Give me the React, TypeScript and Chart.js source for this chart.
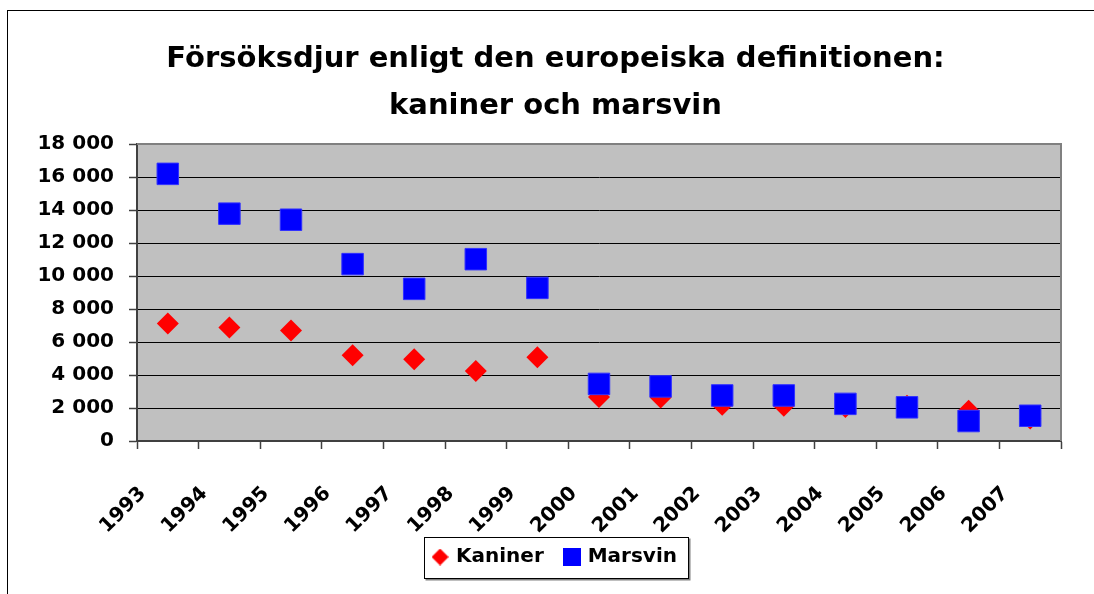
import React, { useEffect, useRef } from "react";
import { Chart, registerables } from "chart.js";

Chart.register(...registerables);

const years = ["1993", "1994", "1995", "1996", "1997", "1998", "1999", "2000", "2001", "2002", "2003", "2004", "2005", "2006", "2007"];
const kaniner = [7120, 6880, 6700, 5200, 4960, 4240, 5080, 2660, 2640, 2200, 2140, 2060, 2140, 1830, 1360];
const marsvin = [16190, 13780, 13410, 10720, 9220, 11020, 9280, 3460, 3310, 2760, 2760, 2250, 2040, 1210, 1530];
const titleLines = ["Försöksdjur enligt den europeiska definitionen:", "kaniner och marsvin"];
const seriesNames = ["Kaniner", "Marsvin"];

const fmt = (v: number) => String(v).replace(/\B(?=(\d{3})+(?!\d))/g, " ");

function makeMarker(kind: "diamond" | "square"): HTMLCanvasElement {
  const c = document.createElement("canvas");
  const s = kind === "diamond" ? 17 : 18;
  c.width = s;
  c.height = s;
  const g = c.getContext("2d")!;
  if (kind === "diamond") {
    g.fillStyle = "#FF0000";
    g.beginPath();
    g.moveTo(s / 2, 0);
    g.lineTo(s, s / 2);
    g.lineTo(s / 2, s);
    g.lineTo(0, s / 2);
    g.closePath();
    g.fill();
  } else {
    g.fillStyle = "#0000FF";
    g.fillRect(0, 0, s, s);
  }
  return c;
}

const plotBg = {
  id: "plotBg",
  beforeDraw(chart: any) {
    const { ctx, chartArea: a } = chart;
    ctx.save();
    ctx.fillStyle = "#C0C0C0";
    ctx.fillRect(a.left, a.top, a.right - a.left, a.bottom - a.top);
    ctx.restore();
  },
  beforeDatasetsDraw(chart: any) {
    const { ctx, chartArea: a } = chart;
    ctx.save();
    ctx.strokeStyle = "#808080";
    ctx.lineWidth = 2;
    ctx.beginPath();
    ctx.moveTo(a.left, a.top);
    ctx.lineTo(a.right, a.top);
    ctx.lineTo(a.right, a.bottom);
    ctx.stroke();
    ctx.restore();
  },
  afterDraw(chart: any) {
    const lg = chart.legend;
    if (!lg || !lg.legendHitBoxes || !lg.legendHitBoxes.length) return;
    const hb = lg.legendHitBoxes;
    let l = Infinity, r = -Infinity, t = Infinity, b = -Infinity;
    hb.forEach((h: any) => {
      l = Math.min(l, h.left);
      r = Math.max(r, h.left + h.width);
      t = Math.min(t, h.top);
      b = Math.max(b, h.top + h.height);
    });
    const ctx = chart.ctx;
    ctx.save();
    const x0 = Math.round(l - 10) + 0.5;
    const x1 = Math.round(r + 11) + 0.5;
    const y0 = Math.round(t - 10) + 0.5;
    const y1 = Math.round(b + 11) + 0.5;
    ctx.strokeStyle = "#808080";
    ctx.lineWidth = 2;
    ctx.beginPath();
    ctx.moveTo(x0 + 1, y1 + 1);
    ctx.lineTo(x1 + 1, y1 + 1);
    ctx.lineTo(x1 + 1, y0 + 1);
    ctx.stroke();
    ctx.strokeStyle = "#000000";
    ctx.lineWidth = 1;
    ctx.strokeRect(x0, y0, x1 - x0, y1 - y0);
    ctx.restore();
  },
};

export default function App() {
  const ref = useRef<HTMLCanvasElement>(null);
  useEffect(() => {
    document.body.style.margin = "0";
    document.body.style.overflow = "hidden";
    const diamond = makeMarker("diamond");
    const square = makeMarker("square");
    const chart = new Chart(ref.current!, {
      type: "line",
      data: {
        labels: years,
        datasets: [
          {
            label: seriesNames[0],
            data: kaniner,
            showLine: false,
            pointStyle: "rectRot",
            pointRadius: 11,
            pointHoverRadius: 11,
            backgroundColor: "#FF0000",
            borderColor: "#FF0000",
            pointBorderWidth: 0,
            order: 1,
          },
          {
            label: seriesNames[1],
            data: marsvin,
            showLine: false,
            pointStyle: "rect",
            pointRadius: 15.2,
            pointHoverRadius: 15.2,
            backgroundColor: "#0000FF",
            borderColor: "#3030FF",
            pointBorderWidth: 1,
            order: 0,
          },
        ],
      },
      options: {
        responsive: false,
        animation: false,
        layout: { padding: { left: 28, right: 19, top: 0, bottom: 15 } },
        plugins: {
          tooltip: { enabled: false },
          title: {
            display: true,
            text: titleLines,
            color: "#000",
            font: { family: "'DejaVu Sans', sans-serif", weight: "bold", size: 29, lineHeight: 47 / 29 },
            padding: { top: 28, bottom: 14 },
          },
          legend: {
            position: "bottom",
            labels: {
              usePointStyle: true,
              boxWidth: 12,
              boxHeight: 12,
              padding: 8,
              color: "#000",
              font: { family: "'DejaVu Sans', sans-serif", weight: "bold", size: 20 },
              sort: (a: any, b: any) => a.datasetIndex - b.datasetIndex,
              generateLabels: (ch: any) => {
                const items = (Chart.defaults.plugins.legend.labels as any).generateLabels(ch);
                return items.map((it: any) => ({
                  ...it,
                  text: it.datasetIndex === 0 ? it.text + "  " : it.text,
                  pointStyle: it.datasetIndex === 0 ? diamond : square,
                }));
              },
            },
          },
        },
        scales: {
          x: {
            type: "category",
            offset: true,
            afterFit: (s: any) => {
              s.height = 98;
            },
            grid: {
              offset: true,
              drawOnChartArea: false,
              drawTicks: true,
              tickLength: 8,
              tickColor: "#404040",
              tickWidth: 1.5,
            },
            border: { color: "#404040", width: 2 },
            ticks: {
              color: "#000",
              maxRotation: 45,
              minRotation: 45,
              autoSkip: false,
              padding: 33,
              labelOffset: -25,
              font: { family: "'DejaVu Sans', sans-serif", weight: "bold", size: 20 },
            },
          },
          y: {
            min: 0,
            max: 18000,
            afterFit: (s: any) => {
              s.width = 101;
            },
            grid: {
              color: (c: any) => (c.tick && c.tick.value === 18000 ? "rgba(0,0,0,0)" : "#000"),
              lineWidth: 1,
              tickLength: 8,
              tickColor: "#404040",
              tickWidth: 1.5,
            },
            border: { color: "#404040", width: 2 },
            ticks: {
              stepSize: 2000,
              color: "#000",
              padding: 15,
              callback: (v: any) => fmt(Number(v)),
              font: { family: "'DejaVu Sans', sans-serif", weight: "bold", size: 20 },
            },
          },
          spacer: {
            type: "linear",
            position: "right",
            display: true,
            afterFit: (s: any) => {
              s.width = 14;
            },
            grid: { display: false, drawTicks: false },
            border: { display: false },
            ticks: { display: false },
          },
        },
      },
      plugins: [plotBg],
    });
    return () => chart.destroy();
  }, []);
  return (
    <div style={{ position: "relative", width: 1094, height: 594, overflow: "hidden" }}>
      <div
        style={{
          position: "absolute",
          left: 7,
          top: 10,
          width: 1087,
          height: 584,
          boxSizing: "border-box",
          borderTop: "1px solid #000",
          borderLeft: "1px solid #000",
        }}
      />
      <canvas ref={ref} width={1086} height={584} style={{ position: "absolute", left: 8, top: 8 }} />
    </div>
  );
}
